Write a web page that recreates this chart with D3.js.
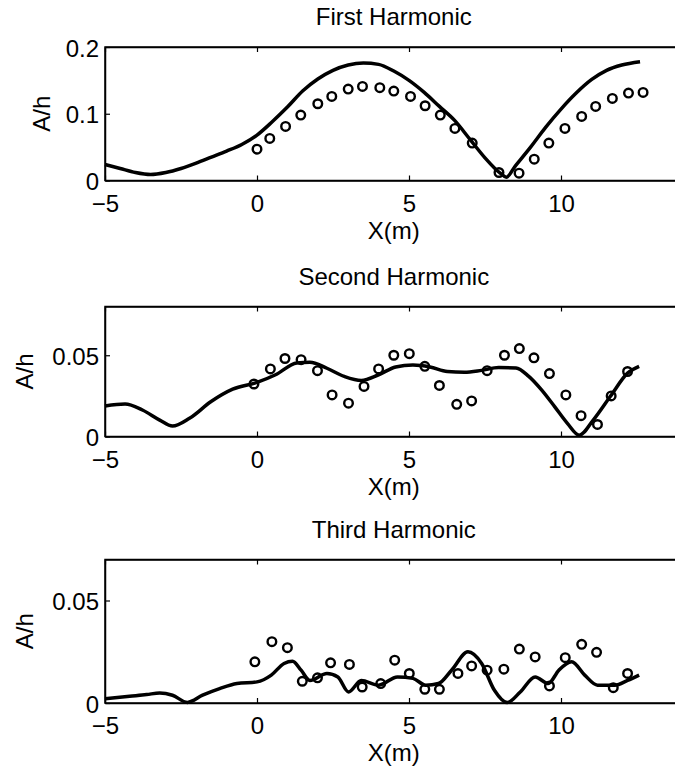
<!DOCTYPE html>
<html>
<head>
<meta charset="utf-8">
<script src="https://cdn.jsdelivr.net/npm/d3@7.9.0/dist/d3.min.js"></script>
<style>
  html, body { margin: 0; padding: 0; background: #fff; }
  svg { display: block; font-family: "Liberation Sans", Arial, Helvetica, sans-serif; }
</style>
</head>
<body>
<div id="chart"></div>
<script>
// x positions of the lines (m) and of the gauges, per harmonic
const firstLineX = [-5, -4.5, -4, -3.5, -3, -2.5, -2, -1.5, -1, -0.5, 0, 0.5, 1, 1.5, 2, 2.5, 3, 3.5, 4, 4.5, 5, 5.5, 6, 6.5, 7, 7.5, 8, 8.2, 8.5, 9, 9.5, 10, 10.5, 11, 11.5, 12, 12.6];
const firstLineY = [0.024, 0.018, 0.012, 0.009, 0.012, 0.018, 0.026, 0.035, 0.044, 0.054, 0.068, 0.088, 0.110, 0.134, 0.152, 0.165, 0.173, 0.176, 0.174, 0.164, 0.150, 0.132, 0.111, 0.090, 0.062, 0.034, 0.011, 0.005, 0.022, 0.050, 0.080, 0.107, 0.131, 0.151, 0.165, 0.173, 0.178];
const firstObsX = [0, 0.42, 0.94, 1.44, 2.0, 2.46, 3.0, 3.47, 4.04, 4.5, 5.05, 5.53, 6.03, 6.51, 7.08, 7.96, 8.62, 9.12, 9.6, 10.13, 10.68, 11.14, 11.69, 12.22, 12.7];
const firstObsY = [0.047, 0.063, 0.081, 0.098, 0.115, 0.126, 0.137, 0.141, 0.139, 0.134, 0.126, 0.112, 0.098, 0.078, 0.056, 0.012, 0.011, 0.032, 0.056, 0.078, 0.096, 0.111, 0.123, 0.131, 0.132];

const secondLineX = [-5, -4.34, -3.77, -3.2, -2.78, -2.22, -1.51, -0.8, 0, 0.61, 1.31, 1.74, 2.3, 2.87, 3.43, 4.0, 4.56, 5.13, 5.69, 6.26, 6.82, 7.39, 7.95, 8.52, 8.94, 9.36, 9.79, 10.21, 10.6, 11.06, 11.62, 12.19, 12.57];
const secondLineY = [0.0188, 0.020, 0.0163, 0.0101, 0.0064, 0.0112, 0.0215, 0.0291, 0.0333, 0.038, 0.0453, 0.0457, 0.042, 0.037, 0.0345, 0.038, 0.0428, 0.044, 0.0428, 0.040, 0.0395, 0.0407, 0.0424, 0.0422, 0.037, 0.0287, 0.0184, 0.0081, 0.0008, 0.0101, 0.0246, 0.039, 0.0432];
const secondObsX = [-0.1, 0.44, 0.92, 1.45, 1.99, 2.47, 3.01, 3.52, 4.0, 4.5, 5.01, 5.52, 6.0, 6.57, 7.06, 7.57, 8.14, 8.63, 9.11, 9.62, 10.16, 10.66, 11.2, 11.65, 12.19];
const secondObsY = [0.0323, 0.0416, 0.048, 0.0473, 0.0405, 0.0256, 0.0205, 0.0308, 0.0416, 0.050, 0.051, 0.0432, 0.0314, 0.0198, 0.0219, 0.0405, 0.050, 0.0541, 0.0484, 0.0387, 0.0256, 0.0128, 0.0074, 0.025, 0.040];

const thirdLineX = [-5, -4.19, -3.63, -3.2, -2.78, -2.29, -1.79, -1.23, -0.66, 0, 0.47, 0.89, 1.17, 1.45, 1.74, 2.3, 2.66, 3.01, 3.43, 4.0, 4.62, 5.13, 5.55, 5.97, 6.4, 6.94, 7.39, 7.81, 8.23, 8.66, 9.15, 9.58, 9.93, 10.35, 10.78, 11.2, 11.77, 12.19, 12.57];
const thirdLineY = [0.0021, 0.0033, 0.0041, 0.0049, 0.0038, 0.0003, 0.0038, 0.007, 0.0095, 0.0103, 0.0136, 0.0193, 0.0204, 0.016, 0.011, 0.0144, 0.0127, 0.0054, 0.011, 0.0087, 0.0127, 0.012, 0.0087, 0.0095, 0.016, 0.025, 0.0193, 0.0062, 0.0002, 0.0054, 0.0127, 0.0095, 0.016, 0.0201, 0.0136, 0.0087, 0.0087, 0.011, 0.0136];
const thirdObsX = [-0.07, 0.49, 1.0, 1.49, 1.99, 2.42, 3.04, 3.46, 4.07, 4.53, 5.01, 5.52, 6.0, 6.61, 7.06, 7.57, 8.12, 8.63, 9.15, 9.62, 10.14, 10.68, 11.17, 11.72, 12.19];
const thirdObsY = [0.0201, 0.0299, 0.027, 0.0106, 0.0123, 0.0196, 0.0188, 0.0078, 0.0095, 0.0209, 0.0144, 0.0067, 0.0067, 0.0144, 0.0181, 0.016, 0.0165, 0.0263, 0.0225, 0.0083, 0.0221, 0.0286, 0.0247, 0.0075, 0.0144];

const titles = ['First Harmonic', 'Second Harmonic', 'Third Harmonic'];
const yMax = [0.2, 0.08, 0.07];
const yTicks = [[0, 0.1, 0.2], [0, 0.05], [0, 0.05]];
const yTickLabels = [['0', '0.1', '0.2'], ['0', '0.05'], ['0', '0.05']];
const xTicks = [-5, 0, 5, 10];
const xDomain = [-5, 14];

const panels = [
  { lineX: firstLineX, lineY: firstLineY, obsX: firstObsX, obsY: firstObsY, top: 47, bottom: 180.5, ylabX: 50 },
  { lineX: secondLineX, lineY: secondLineY, obsX: secondObsX, obsY: secondObsY, top: 306.5, bottom: 436.5, ylabX: 33 },
  { lineX: thirdLineX, lineY: thirdLineY, obsX: thirdObsX, obsY: thirdObsY, top: 559.5, bottom: 703, ylabX: 33 },
];

const width = 675;
const height = 770;
const left = 105;
const right = 682.6;
const fontSize = 24;

const svg = d3
  .select('#chart')
  .append('svg')
  .attr('width', width)
  .attr('height', height);

const x = d3.scaleLinear().domain(xDomain).range([left, right]);

panels.forEach((p, i) => {
  const y = d3.scaleLinear().domain([0, yMax[i]]).range([p.bottom, p.top]);
  const g = svg.append('g');

  // frame (right side falls outside the picture, as in the original)
  g.append('rect')
    .attr('x', left)
    .attr('y', p.top)
    .attr('width', right - left)
    .attr('height', p.bottom - p.top)
    .attr('fill', 'none')
    .attr('stroke', '#000')
    .attr('stroke-width', 1.5);

  g.append('g')
    .attr('transform', `translate(0,${p.bottom})`)
    .call(d3.axisBottom(x).tickValues(xTicks).tickSizeInner(-5).tickSizeOuter(0).tickPadding(14));

  g.append('g')
    .attr('transform', `translate(0,${p.top})`)
    .call(d3.axisTop(x).tickValues(xTicks).tickSizeInner(-5).tickSizeOuter(0).tickFormat(''));

  const yAxis = g
    .append('g')
    .attr('transform', `translate(${left},0)`)
    .call(
      d3.axisLeft(y)
        .tickValues(yTicks[i])
        .tickSizeInner(-5)
        .tickSizeOuter(0)
        .tickPadding(6)
        .tickFormat((d, k) => yTickLabels[i][k]),
    );

  g.selectAll('.domain').attr('stroke-width', 1.5);
  g.selectAll('.tick line').attr('stroke-width', 1.2);
  g.selectAll('.tick text').attr('font-size', fontSize).attr('fill', '#000');
  yAxis.selectAll('.tick text').attr('dy', '0.38em');

  g.append('text')
    .attr('x', (left + right) / 2)
    .attr('y', p.top - 22)
    .attr('text-anchor', 'middle')
    .attr('font-size', fontSize)
    .text(titles[i]);

  g.append('text')
    .attr('x', (left + right) / 2)
    .attr('y', p.bottom + 58)
    .attr('text-anchor', 'middle')
    .attr('font-size', fontSize)
    .text('X(m)');

  g.append('text')
    .attr('transform', `translate(${p.ylabX},${(p.top + p.bottom) / 2}) rotate(-90)`)
    .attr('text-anchor', 'middle')
    .attr('font-size', fontSize)
    .text('A/h');

  const line = d3
    .line()
    .x((d) => x(d[0]))
    .y((d) => y(d[1]))
    .curve(d3.curveMonotoneX);

  g.append('path')
    .datum(d3.zip(p.lineX, p.lineY))
    .attr('d', line)
    .attr('fill', 'none')
    .attr('stroke', '#000')
    .attr('stroke-width', 3.5)
    .attr('stroke-linejoin', 'round');

  g.append('g')
    .selectAll('circle')
    .data(d3.zip(p.obsX, p.obsY))
    .join('circle')
    .attr('cx', (d) => x(d[0]))
    .attr('cy', (d) => y(d[1]))
    .attr('r', 4.3)
    .attr('fill', 'none')
    .attr('stroke', '#000')
    .attr('stroke-width', 2.4);
});
</script>
</body>
</html>
